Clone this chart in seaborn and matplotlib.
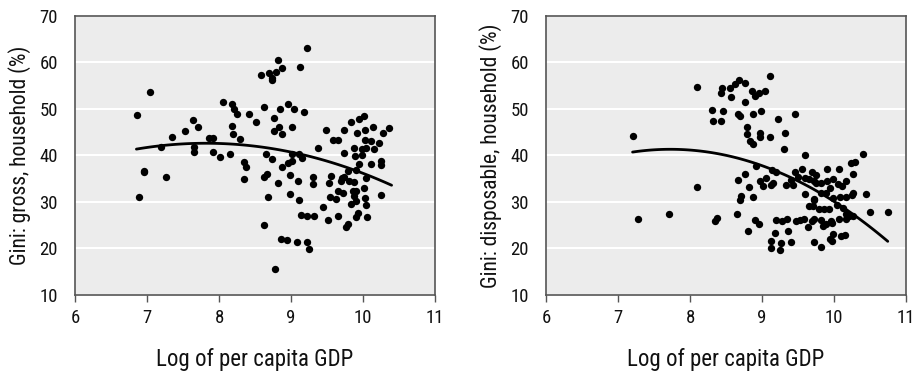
import matplotlib
matplotlib.use('Agg')
import matplotlib.pyplot as plt
import numpy as np
import pandas as pd
import seaborn as sns

# left panel: gross household Gini vs log GDP per capita
gross_x = [6.86, 7.04, 9.22, 8.82, 8.58, 8.69, 8.79, 8.87, 8.73, 8.74, 9.13, 8.05, 8.18, 8.21,
           8.25, 8.41, 8.62, 8.85, 8.96, 9.04, 9.18, 8.77, 8.52, 8.18, 8.19, 8.29, 8.83, 8.77,
           8.88, 9.02, 7.64, 7.70, 7.53, 7.35, 7.86, 7.92, 7.65, 7.65, 7.19, 7.92, 8.01, 8.15,
           8.35, 8.37, 8.35, 6.95, 6.96, 7.26, 6.88, 8.65, 8.73, 9.01, 9.11, 9.16, 9.02, 8.96,
           8.88, 8.63, 8.66, 8.99, 9.10, 8.82, 8.99, 8.68, 9.11, 9.38, 9.49, 9.58, 9.66, 9.74,
           9.84, 9.95, 10.02, 9.92, 10.03, 10.14, 10.28, 10.37, 10.03, 10.12, 10.22, 9.87, 9.99,
           10.05, 10.16, 9.74, 9.89, 9.99, 9.95, 10.12, 10.25, 10.25, 9.80, 9.90, 9.31, 9.31,
           9.56, 9.53, 9.71, 9.69, 9.74, 9.81, 9.87, 10.04, 9.66, 9.73, 9.86, 9.91, 10.01, 10.25,
           9.54, 9.62, 9.87, 10.03, 9.90, 9.83, 10.05, 9.44, 9.14, 9.22, 9.32, 9.52, 9.66, 9.93,
           9.91, 10.06, 8.63, 9.76, 9.80, 8.86, 8.95, 9.08, 9.23, 9.25, 8.78]
gross_y = [48.6, 53.7, 63.1, 60.5, 57.3, 57.8, 57.9, 58.8, 56.2, 56.6, 58.9, 51.5, 51.0, 49.9,
           48.9, 49.0, 50.3, 49.9, 51.0, 50.0, 49.3, 48.1, 47.1, 46.4, 44.7, 43.6, 46.0, 45.2,
           44.5, 46.0, 47.5, 46.0, 45.2, 44.0, 43.7, 43.7, 41.9, 40.7, 41.8, 40.7, 39.6, 40.2,
           38.5, 37.5, 35.0, 36.4, 36.7, 35.3, 31.1, 40.2, 39.2, 40.4, 40.4, 39.4, 38.9, 38.3,
           37.4, 35.4, 35.9, 35.8, 34.6, 34.1, 31.8, 31.0, 30.4, 41.6, 45.4, 43.3, 43.3, 45.4,
           47.1, 47.8, 48.5, 44.9, 45.4, 46.2, 44.9, 45.9, 43.3, 43.0, 42.6, 41.6, 41.4,
           41.5, 41.4, 40.6, 39.9, 40.0, 38.2, 38.2, 38.7, 37.9, 36.7, 36.9, 35.4, 33.9,
           35.6, 34.1, 35.1, 34.6, 35.3, 34.5, 34.3, 35.1, 32.4, 31.9, 32.3, 32.4, 33.1, 31.4,
           31.1, 30.7, 31.2, 30.9, 30.3, 29.6, 29.4, 28.9, 27.2, 27.0, 27.0, 26.2, 27.0, 27.7,
           26.8, 26.8, 25.1, 24.6, 25.3, 22.1, 21.9, 21.4, 21.3, 19.9, 15.6]
# fitted curve
gross_fit_x = [6.85, 7.18, 7.64, 7.92, 8.29, 8.57, 9.03, 9.50, 9.87, 10.19, 10.40]
gross_fit_y = [41.2, 42.1, 42.7, 42.7, 42.4, 41.8, 40.4, 38.7, 36.9, 35.1, 33.6]

# right panel: disposable household Gini vs log GDP per capita
disp_x = [7.20, 8.10, 8.10, 8.30, 8.32, 8.43, 8.46, 8.43, 8.44, 8.56, 8.57, 8.63, 8.68, 8.76,
          8.76, 8.86, 8.90, 8.96, 9.04, 9.11, 8.66, 8.70, 8.87, 8.99, 9.22, 9.46, 8.79, 8.79,
          8.83, 8.88, 8.97, 8.97, 9.11, 9.32, 9.30, 9.60, 10.41, 10.29, 10.24, 8.92, 8.76, 8.66,
          8.82, 8.97, 9.01, 9.05, 9.12, 9.16, 9.14, 9.20, 9.33, 9.41, 9.43, 9.46, 9.56, 9.50,
          9.60, 9.66, 9.70, 9.75, 9.72, 9.75, 9.82, 9.91, 9.91, 9.99, 10.07, 10.06, 10.11, 10.17,
          10.26, 9.60, 9.82, 9.89, 9.95, 9.73, 10.45, 10.26, 10.25, 9.99, 10.08, 10.17, 8.88,
          8.71, 8.70, 7.28, 7.70, 8.35, 8.38, 8.65, 8.81, 8.91, 8.96, 9.19, 9.28, 9.35, 9.47,
          9.53, 9.58, 9.18, 9.36, 9.13, 9.13, 9.27, 9.25, 9.41, 9.64, 9.70, 9.72, 9.65, 9.71,
          9.73, 9.79, 9.86, 9.93, 9.82, 9.85, 9.89, 9.73, 9.82, 9.94, 9.98, 9.99, 9.96, 9.97,
          10.05, 10.07, 10.10, 10.16, 10.17, 10.17, 10.21, 10.27, 10.13, 10.50, 10.75]
disp_y = [44.2, 54.6, 33.3, 49.7, 47.3, 47.3, 49.5, 53.3, 54.5, 54.5, 52.6, 55.4, 56.2, 55.6,
          51.5, 53.8, 52.7, 53.3, 53.8, 57.0, 49.0, 48.4, 48.8, 49.5, 47.8, 48.8, 46.1, 44.6,
          43.2, 42.5, 44.9, 43.9, 43.9, 44.9, 41.3, 40.0, 40.3, 38.5, 38.4, 37.8, 35.9, 34.7,
          33.3, 34.4, 33.5, 35.1, 33.6, 34.0, 36.9, 36.4, 33.6, 34.7, 33.6, 36.4, 37.1, 35.4,
          35.2, 34.9, 36.4, 35.8, 34.6, 34.0, 34.1, 37.1, 34.5, 34.9, 37.1, 33.8, 33.4, 34.5,
          35.9, 31.8, 32.0, 32.0, 33.0, 30.6, 31.8, 32.0, 31.5, 30.9, 31.1, 31.1, 31.0,
          31.2, 30.4, 26.4, 27.4, 25.9, 26.6, 27.4, 23.8, 26.1, 25.2, 26.2, 25.9, 26.4, 25.9,
          26.1, 26.4, 23.4, 23.8, 21.6, 20.1, 21.2, 19.6, 21.4, 24.6, 25.9, 26.4, 29.1, 29.1,
          30.4, 28.4, 28.4, 28.4, 26.2, 24.8, 25.2, 21.3, 20.4, 22.1, 21.6, 23.2, 25.9, 25.4,
          29.3, 26.4, 22.6, 22.8, 27.5, 26.4, 26.9, 26.9, 28.6, 27.9, 27.9]
disp_fit_x = [7.20, 7.49, 7.77, 8.09, 8.41, 8.88, 9.34, 9.71, 10.08, 10.36, 10.75]
disp_fit_y = [40.4, 41.3, 41.5, 41.2, 40.4, 38.3, 35.8, 32.3, 29.3, 26.5, 21.6]

x_label = 'Log of per capita GDP'
y_labels = ['Gini: gross, household (%)', 'Gini: disposable, household (%)']
x_ticks = [6, 7, 8, 9, 10, 11]
y_ticks = [10, 20, 30, 40, 50, 60, 70]

sns.set_style('whitegrid', {'axes.facecolor': '#ececec', 'grid.color': 'white',
                            'axes.edgecolor': '#555555'})
plt.rcParams['font.family'] = ['Roboto Condensed', 'Liberation Sans Narrow', 'DejaVu Sans']
plt.rcParams['font.stretch'] = 'condensed'
plt.rcParams['text.color'] = '#111111'
plt.rcParams['xtick.color'] = '#111111'
plt.rcParams['ytick.color'] = '#111111'
plt.rcParams['axes.labelcolor'] = '#111111'

fig = plt.figure(figsize=(9.16, 3.82), dpi=100)
ax1 = fig.add_axes([0.0822, 0.2277, 0.3924, 0.731])
ax2 = fig.add_axes([0.5964, 0.2277, 0.3924, 0.731])

panels = [(ax1, gross_x, gross_y, gross_fit_x, gross_fit_y),
          (ax2, disp_x, disp_y, disp_fit_x, disp_fit_y)]
for (ax, xs, ys, fx, fy), ylab in zip(panels, y_labels):
    sns.scatterplot(x=xs, y=ys, ax=ax, s=28, color='black', linewidth=0, zorder=3)
    # smooth quadratic through the curve points
    sns.regplot(x=fx, y=fy, order=2, ci=None, scatter=False, ax=ax,
                line_kws={'color': 'black', 'linewidth': 2, 'zorder': 4})
    ax.set_xlim(6, 11)
    ax.set_ylim(10, 70)
    ax.set_xticks(x_ticks)
    ax.set_yticks(y_ticks)
    ax.xaxis.grid(False)
    ax.yaxis.grid(True, color='white', linewidth=1.5)
    ax.tick_params(axis='x', bottom=True, length=5, width=1, color='#555555',
                   labelsize=13.5, pad=5)
    ax.tick_params(axis='y', left=False, labelsize=13.5, pad=9)
    for sp in ax.spines.values():
        sp.set_color('#555555')
        sp.set_linewidth(1.2)
    ax.set_xlabel(x_label, fontsize=16.5, labelpad=15)
    ax.set_ylabel(ylab, fontsize=15.5, labelpad=6)

fig.savefig('out.png', dpi=100)
